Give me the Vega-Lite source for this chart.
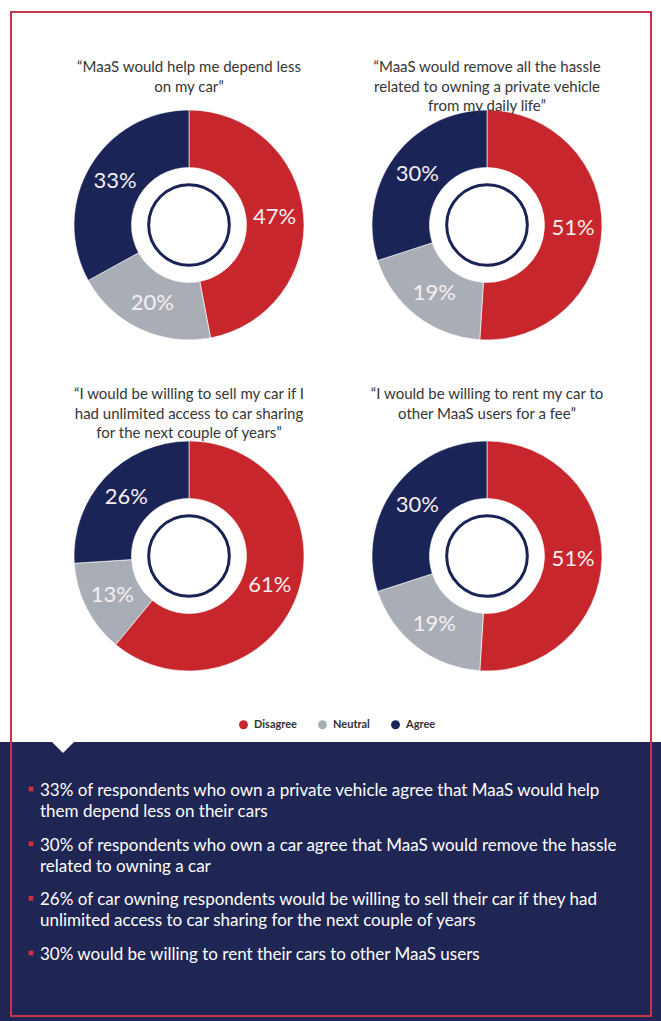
{
  "$schema": "https://vega.github.io/schema/vega-lite/v6.json",
  "width": 640,
  "height": 1004,
  "autosize": {"type": "none"},
  "padding": {"left": 11, "top": 12, "right": 10, "bottom": 5},
  "background": "#ffffff",
  "config": {"view": {"stroke": null}, "font": "Lato"},
  "datasets": {
    "slices": [
      {"chart": "c1", "col": "L", "row": "T", "response": "Disagree", "pct": 0.47, "ord": 1},
      {"chart": "c1", "col": "L", "row": "T", "response": "Neutral", "pct": 0.20, "ord": 2},
      {"chart": "c1", "col": "L", "row": "T", "response": "Agree", "pct": 0.33, "ord": 3},
      {"chart": "c2", "col": "R", "row": "T", "response": "Disagree", "pct": 0.51, "ord": 1},
      {"chart": "c2", "col": "R", "row": "T", "response": "Neutral", "pct": 0.19, "ord": 2},
      {"chart": "c2", "col": "R", "row": "T", "response": "Agree", "pct": 0.30, "ord": 3},
      {"chart": "c3", "col": "L", "row": "B", "response": "Disagree", "pct": 0.61, "ord": 1},
      {"chart": "c3", "col": "L", "row": "B", "response": "Neutral", "pct": 0.13, "ord": 2},
      {"chart": "c3", "col": "L", "row": "B", "response": "Agree", "pct": 0.26, "ord": 3},
      {"chart": "c4", "col": "R", "row": "B", "response": "Disagree", "pct": 0.51, "ord": 1},
      {"chart": "c4", "col": "R", "row": "B", "response": "Neutral", "pct": 0.19, "ord": 2},
      {"chart": "c4", "col": "R", "row": "B", "response": "Agree", "pct": 0.30, "ord": 3}
    ],
    "charts": [
      {"chart": "c1", "col": "L", "row": "T", "title": "“MaaS would help me depend less\non my car”"},
      {"chart": "c2", "col": "R", "row": "T", "title": "“MaaS would remove all the hassle\nrelated to owning a private vehicle\nfrom my daily life”"},
      {"chart": "c3", "col": "L", "row": "B", "title": "“I would be willing to sell my car if I\nhad unlimited access to car sharing\nfor the next couple of years”"},
      {"chart": "c4", "col": "R", "row": "B", "title": "“I would be willing to rent my car to\nother MaaS users for a fee”"}
    ],
    "bullets": [
      {"idx": 1, "text": "33% of respondents who own a private vehicle agree that MaaS would help\nthem depend less on their cars"},
      {"idx": 2, "text": "30% of respondents who own a car agree that MaaS would remove the hassle\nrelated to owning a car"},
      {"idx": 3, "text": "26% of car owning respondents would be willing to sell their car if they had\nunlimited access to car sharing for the next couple of years"},
      {"idx": 4, "text": "30% would be willing to rent their cars to other MaaS users"}
    ]
  },
  "layer": [
    {
      "data": {"values": [{}]},
      "mark": {"type": "rect", "color": "#1f2654"},
      "encoding": {"x": {"value": -11}, "x2": {"value": 650}, "y": {"value": 730}, "y2": {"value": 1009}}
    },
    {
      "data": {"values": [{}]},
      "mark": {"type": "point", "shape": "M-1,-1L1,-1L0,0Z", "size": 484, "filled": true, "color": "#ffffff", "opacity": 1, "x": 52, "y": 741},
      "encoding": {}
    },
    {
      "data": {"name": "bullets"},
      "mark": {"type": "text", "align": "left", "baseline": "top", "x": 29, "fontSize": 17, "lineHeight": 21, "lineBreak": "\n", "color": "#ffffff"},
      "encoding": {
        "y": {"field": "idx", "type": "ordinal", "scale": {"type": "point", "padding": 0, "range": [771, 935]}, "axis": null},
        "text": {"field": "text", "type": "nominal"}
      }
    },
    {
      "data": {"name": "bullets"},
      "mark": {"type": "point", "shape": "square", "filled": true, "size": 22, "x": 20, "color": "#d0303f", "opacity": 1},
      "encoding": {
        "y": {"field": "idx", "type": "ordinal", "scale": {"type": "point", "padding": 0, "range": [777, 941]}, "axis": null}
      }
    },
    {
      "data": {"name": "slices"},
      "transform": [{"stack": "pct", "groupby": ["chart"], "sort": [{"field": "ord", "order": "ascending"}], "as": ["p0", "p1"]}],
      "mark": {"type": "arc", "innerRadius": 57.5, "outerRadius": 115, "stroke": "#ffffff", "strokeWidth": 0.6},
      "encoding": {
        "x": {"field": "col", "type": "nominal", "scale": {"type": "point", "padding": 0, "domain": ["L", "R"], "range": [178, 476]}, "axis": null},
        "y": {"field": "row", "type": "nominal", "scale": {"type": "point", "padding": 0, "domain": ["T", "B"], "range": [213, 544]}, "axis": null},
        "theta": {"field": "p0", "type": "quantitative", "scale": {"domain": [0, 1]}},
        "theta2": {"field": "p1"},
        "color": {
          "field": "response", "type": "nominal",
          "scale": {"domain": ["Disagree", "Neutral", "Agree"], "range": ["#c8262d", "#a9aeb6", "#1b2457"]},
          "legend": {"orient": "none", "legendX": 227, "legendY": 707, "direction": "horizontal", "title": null, "symbolType": "circle", "symbolSize": 80, "symbolStrokeWidth": 0, "labelFontSize": 11, "labelFont": "Lato", "labelFontWeight": "bold", "labelColor": "#333333", "columnPadding": 20, "labelOffset": 5}
        }
      }
    },
    {
      "data": {"name": "charts"},
      "mark": {"type": "point", "shape": "circle", "size": 6504, "filled": false, "stroke": "#1a2355", "strokeWidth": 3, "opacity": 1},
      "encoding": {
        "x": {"field": "col", "type": "nominal", "scale": {"type": "point", "padding": 0, "domain": ["L", "R"], "range": [178, 476]}, "axis": null},
        "y": {"field": "row", "type": "nominal", "scale": {"type": "point", "padding": 0, "domain": ["T", "B"], "range": [213, 544]}, "axis": null}
      }
    },
    {
      "data": {"name": "slices"},
      "mark": {"type": "text", "fontSize": 22, "color": "#f6eef0", "font": "Lato", "align": "center", "baseline": "middle"},
      "encoding": {
        "x": {"field": "col", "type": "nominal", "scale": {"type": "point", "padding": 0, "domain": ["L", "R"], "range": [178, 476]}, "axis": null},
        "y": {"field": "row", "type": "nominal", "scale": {"type": "point", "padding": 0, "domain": ["T", "B"], "range": [213, 544]}, "axis": null},
        "theta": {"field": "pct", "type": "quantitative", "stack": true, "scale": {"domain": [0, 1]}},
        "radius": {"field": "chart", "type": "nominal", "scale": {"type": "point", "padding": 0, "range": [86, 86]}},
        "order": {"field": "ord"},
        "detail": {"field": "response"},
        "text": {"field": "pct", "type": "quantitative", "format": ".0%"}
      }
    },
    {
      "data": {"name": "charts"},
      "mark": {"type": "text", "align": "center", "baseline": "top", "fontSize": 15, "lineHeight": 19.5, "lineBreak": "\n", "color": "#363636"},
      "encoding": {
        "x": {"field": "col", "type": "nominal", "scale": {"type": "point", "padding": 0, "domain": ["L", "R"], "range": [178, 476]}, "axis": null},
        "y": {"field": "row", "type": "nominal", "scale": {"type": "point", "padding": 0, "domain": ["T", "B"], "range": [48, 375]}, "axis": null},
        "text": {"field": "title", "type": "nominal"}
      }
    },
    {
      "data": {"values": [{}]},
      "mark": {"type": "rect", "filled": false, "stroke": "#c8354a", "strokeWidth": 2},
      "encoding": {}
    }
  ],
  "resolve": {"scale": {"y": "independent"}}
}
